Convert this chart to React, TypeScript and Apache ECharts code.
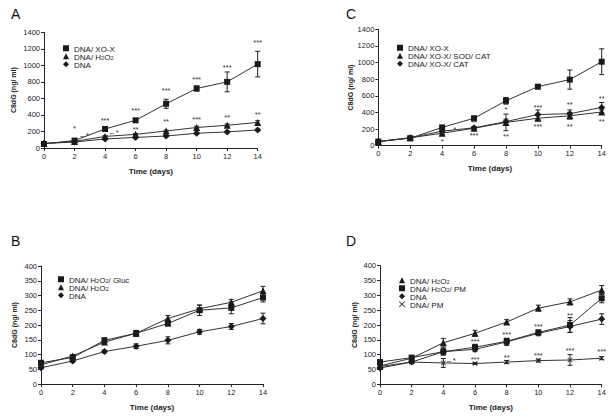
import React, { useEffect, useRef } from "react";
import * as echarts from "echarts";

const FONT = '"Liberation Sans", Arial, Helvetica, "DejaVu Sans", sans-serif';
const INK = "#1a1a1a";

const days = [0, 2, 4, 6, 8, 10, 12, 14];

// Panel A
const aXoX = [50, 90, 230, 335, 535, 720, 800, 1015];
const aXoXErr = [10, 15, 15, 20, 55, 30, 120, 155];
const aH2O2 = [55, 80, 140, 165, 206, 248, 275, 310];
const aH2O2Err = [5, 5, 10, 10, 10, 15, 15, 20];
const aDNA = [55, 72, 110, 128, 145, 178, 195, 218];
const aDNAErr = [5, 5, 10, 10, 10, 10, 10, 10];
const aAnn: [number, number, string][] = [
  [2, 230, "*"], [2.6, 150, "←*"], [4, 335, "***"], [4.55, 185, "←*"],
  [6, 450, "***"], [6, 225, "**"], [8, 690, "***"], [8, 315, "**"],
  [10, 825, "***"], [10, 340, "***"], [12, 975, "***"], [12, 365, "**"],
  [14, 1280, "***"], [14, 410, "**"],
];

// Panel C
const cXoX = [50, 90, 220, 330, 540, 710, 795, 1010];
const cXoXErr = [10, 10, 15, 15, 40, 25, 115, 155];
const cSodCat = [50, 95, 150, 210, 280, 330, 360, 405];
const cSodCatErr = [10, 10, 15, 15, 100, 30, 40, 25];
const cCat = [50, 95, 175, 215, 290, 375, 385, 460];
const cCatErr = [10, 10, 15, 15, 30, 55, 45, 60];
const cAnn: [number, number, string][] = [
  [4.55, 195, "←*"], [4, 55, "*"], [6, 275, "**"], [6, 125, "***"],
  [8, 430, "*"], [8, 115, "**"], [10, 465, "***"], [10, 230, "***"],
  [12, 490, "**"], [12, 235, "**"], [14, 570, "**"], [14, 290, "**"],
];

// Panel B
const bGluc = [72, 90, 148, 172, 205, 250, 258, 293];
const bGlucErr = [5, 5, 8, 8, 8, 18, 20, 15];
const bH2O2 = [65, 95, 142, 172, 222, 255, 277, 316];
const bH2O2Err = [5, 5, 8, 10, 10, 12, 10, 15];
const bDNA = [55, 78, 110, 128, 148, 177, 195, 222];
const bDNAErr = [5, 5, 5, 8, 12, 8, 10, 18];

// Panel D
const dH2O2 = [62, 88, 140, 172, 210, 257, 278, 318];
const dH2O2Err = [5, 5, 15, 10, 8, 10, 10, 15];
const dH2O2PM = [75, 90, 110, 125, 145, 175, 200, 290];
const dH2O2PMErr = [5, 5, 12, 10, 10, 8, 25, 15];
const dDNA = [55, 75, 110, 118, 143, 172, 195, 220];
const dDNAErr = [5, 5, 8, 8, 12, 8, 20, 18];
const dPM = [60, 75, 72, 70, 75, 80, 82, 88];
const dPMErr = [3, 5, 15, 3, 5, 5, 18, 5];
const dAnn: [number, number, string][] = [
  [4.45, 80, "←*"], [6, 145, "***"], [6, 85, "***"], [8, 168, "***"],
  [8, 92, "**"], [10, 194, "***"], [10, 98, "***"], [12, 232, "**"],
  [12, 113, "***"], [14, 112, "***"],
];

const yName = "C8dG (ng/ ml)";
const xName = "Time (days)";
const CROSS = "path://M0,1L1,0L5,4L9,0L10,1L6,5L10,9L9,10L5,6L1,10L0,9L4,5Z";

function lineSeries(name: string, vals: number[], symbol: string, size: number, idx: number) {
  return {
    type: "line",
    name,
    xAxisIndex: idx,
    yAxisIndex: idx,
    data: days.map((d, i) => [d, vals[i]]),
    symbol,
    symbolSize: size,
    showSymbol: true,
    lineStyle: { color: "#333", width: 1 },
    itemStyle: { color: INK },
    z: 4,
  };
}

function errSeries(vals: number[], errs: number[], idx: number) {
  return {
    type: "custom",
    xAxisIndex: idx,
    yAxisIndex: idx,
    data: days.map((d, i) => [d, vals[i] - errs[i], vals[i] + errs[i]]),
    encode: { x: 0, y: [1, 2] },
    z: 3,
    renderItem: (params: any, api: any) => {
      const x = api.value(0);
      const lo = api.coord([x, api.value(1)]);
      const hi = api.coord([x, api.value(2)]);
      const w = 2.5;
      const st = { stroke: "#222", lineWidth: 1 };
      return {
        type: "group",
        children: [
          { type: "line", shape: { x1: lo[0], y1: lo[1], x2: hi[0], y2: hi[1] }, style: st },
          { type: "line", shape: { x1: lo[0] - w, y1: lo[1], x2: lo[0] + w, y2: lo[1] }, style: st },
          { type: "line", shape: { x1: hi[0] - w, y1: hi[1], x2: hi[0] + w, y2: hi[1] }, style: st },
        ],
      };
    },
  };
}

function annSeries(anns: [number, number, string][], idx: number) {
  return {
    type: "custom",
    xAxisIndex: idx,
    yAxisIndex: idx,
    data: anns.map((a) => [a[0], a[1]]),
    z: 5,
    renderItem: (params: any, api: any) => {
      const p = api.coord([api.value(0), api.value(1)]);
      return {
        type: "text",
        x: p[0],
        y: p[1],
        style: {
          text: anns[params.dataIndex][2],
          fontSize: 7.5,
          fontFamily: FONT,
          fill: "#333",
          align: "center",
          verticalAlign: "middle",
        },
      };
    },
  };
}

function fmtName(name: string) {
  return name
    .trim()
    .split(/(\d)/)
    .filter((p) => p.length > 0)
    .map((p) => (/^\d$/.test(p) ? `{s|${p}}` : `{n|${p}}`))
    .join("");
}

const legendText = {
  fontSize: 8,
  fontFamily: FONT,
  color: INK,
  rich: {
    n: { fontSize: 8, lineHeight: 9.5, fontFamily: FONT, color: INK, verticalAlign: "bottom" },
    s: { fontSize: 5.5, lineHeight: 9.5, fontFamily: FONT, color: INK, verticalAlign: "bottom" },
  },
};

function legend(left: number, top: number, items: [string, string][]) {
  return {
    left,
    top,
    orient: "vertical",
    itemWidth: 6,
    itemHeight: 6,
    itemGap: 0,
    selectedMode: false,
    formatter: fmtName,
    textStyle: legendText,
    data: items.map(([name, icon]) => ({ name, icon, itemStyle: { color: INK } })),
  };
}

const plainNum = (v: number) => String(v);

function xAxis(idx: number) {
  return {
    type: "value",
    gridIndex: idx,
    min: 0,
    max: 14,
    interval: 2,
    name: xName,
    nameLocation: "middle",
    nameGap: 19,
    nameTextStyle: { fontSize: 8, fontWeight: "bold", fontFamily: FONT, color: "#222" },
    axisLine: { lineStyle: { color: "#222", width: 1 } },
    axisTick: { show: true, length: 3, lineStyle: { color: "#222" } },
    axisLabel: { fontSize: 7.5, fontFamily: FONT, color: "#222", margin: 4, formatter: plainNum },
    splitLine: { show: false },
  };
}

function yAxis(idx: number, max: number, interval: number, gap: number) {
  return {
    type: "value",
    gridIndex: idx,
    min: 0,
    max,
    interval,
    name: yName,
    nameLocation: "middle",
    nameGap: gap,
    nameRotate: 90,
    nameTextStyle: { fontSize: 7, fontWeight: "bold", fontFamily: FONT, color: "#222" },
    axisLine: { show: true, lineStyle: { color: "#222", width: 1 } },
    axisTick: { show: true, length: 3, lineStyle: { color: "#222" } },
    axisLabel: { fontSize: 7.5, fontFamily: FONT, color: "#222", margin: 4, formatter: plainNum },
    splitLine: { show: false },
  };
}

export default function App() {
  const ref = useRef<HTMLDivElement>(null);
  useEffect(() => {
    document.body.style.margin = "0";
    if (!ref.current) return;
    const chart = echarts.init(ref.current, undefined, { renderer: "svg" });
    const titleStyle = { fontSize: 14, fontWeight: "normal", fontFamily: FONT, color: "#111" };
    chart.setOption({
      animation: false,
      backgroundColor: "#fff",
      title: [
        { text: "A", left: 6, top: 2, textStyle: titleStyle },
        { text: "C", left: 341, top: 2, textStyle: titleStyle },
        { text: "B", left: 6, top: 229, textStyle: titleStyle },
        { text: "D", left: 341, top: 229, textStyle: titleStyle },
      ],
      grid: [
        { left: 44, top: 32.3, width: 213.7, height: 115.7 },
        { left: 378.3, top: 29.3, width: 223.4, height: 116.4 },
        { left: 41, top: 266, width: 222, height: 118 },
        { left: 380, top: 265.7, width: 221.7, height: 118.6 },
      ],
      xAxis: [xAxis(0), xAxis(1), xAxis(2), xAxis(3)],
      yAxis: [yAxis(0, 1400, 200, 27), yAxis(1, 1400, 200, 24), yAxis(2, 400, 50, 23), yAxis(3, 400, 50, 22)],
      legend: [
        legend(58, 40, [["DNA/ XO-X", "rect"], ["DNA/ H2O2", "triangle"], ["DNA", "diamond"]]),
        legend(392, 39.5, [["DNA/ XO-X ", "rect"], ["DNA/ XO-X/ SOD/ CAT", "triangle"], ["DNA/ XO-X/ CAT", "diamond"]]),
        legend(53, 271, [["DNA/ H2O2/ Gluc", "rect"], ["DNA/ H2O2 ", "triangle"], ["DNA ", "diamond"]]),
        legend(394, 272, [["DNA/ H2O2  ", "triangle"], ["DNA/ H2O2/ PM", "rect"], ["DNA  ", "diamond"], ["DNA/ PM", CROSS]]),
      ],
      series: [
        errSeries(aXoX, aXoXErr, 0),
        errSeries(aH2O2, aH2O2Err, 0),
        errSeries(aDNA, aDNAErr, 0),
        lineSeries("DNA/ XO-X", aXoX, "rect", 6, 0),
        lineSeries("DNA/ H2O2", aH2O2, "triangle", 7, 0),
        lineSeries("DNA", aDNA, "diamond", 7, 0),
        annSeries(aAnn, 0),

        errSeries(cXoX, cXoXErr, 1),
        errSeries(cSodCat, cSodCatErr, 1),
        errSeries(cCat, cCatErr, 1),
        lineSeries("DNA/ XO-X ", cXoX, "rect", 6, 1),
        lineSeries("DNA/ XO-X/ SOD/ CAT", cSodCat, "triangle", 7, 1),
        lineSeries("DNA/ XO-X/ CAT", cCat, "diamond", 7, 1),
        annSeries(cAnn, 1),

        errSeries(bGluc, bGlucErr, 2),
        errSeries(bH2O2, bH2O2Err, 2),
        errSeries(bDNA, bDNAErr, 2),
        lineSeries("DNA/ H2O2/ Gluc", bGluc, "rect", 6, 2),
        lineSeries("DNA/ H2O2 ", bH2O2, "triangle", 7, 2),
        lineSeries("DNA ", bDNA, "diamond", 7, 2),

        errSeries(dH2O2, dH2O2Err, 3),
        errSeries(dH2O2PM, dH2O2PMErr, 3),
        errSeries(dDNA, dDNAErr, 3),
        errSeries(dPM, dPMErr, 3),
        lineSeries("DNA/ H2O2  ", dH2O2, "triangle", 7, 3),
        lineSeries("DNA/ H2O2/ PM", dH2O2PM, "rect", 6, 3),
        lineSeries("DNA  ", dDNA, "diamond", 7, 3),
        lineSeries("DNA/ PM", dPM, CROSS, 5, 3),
        annSeries(dAnn, 3),
      ],
    });
    return () => chart.dispose();
  }, []);
  return <div ref={ref} style={{ width: 612, height: 420 }} />;
}
